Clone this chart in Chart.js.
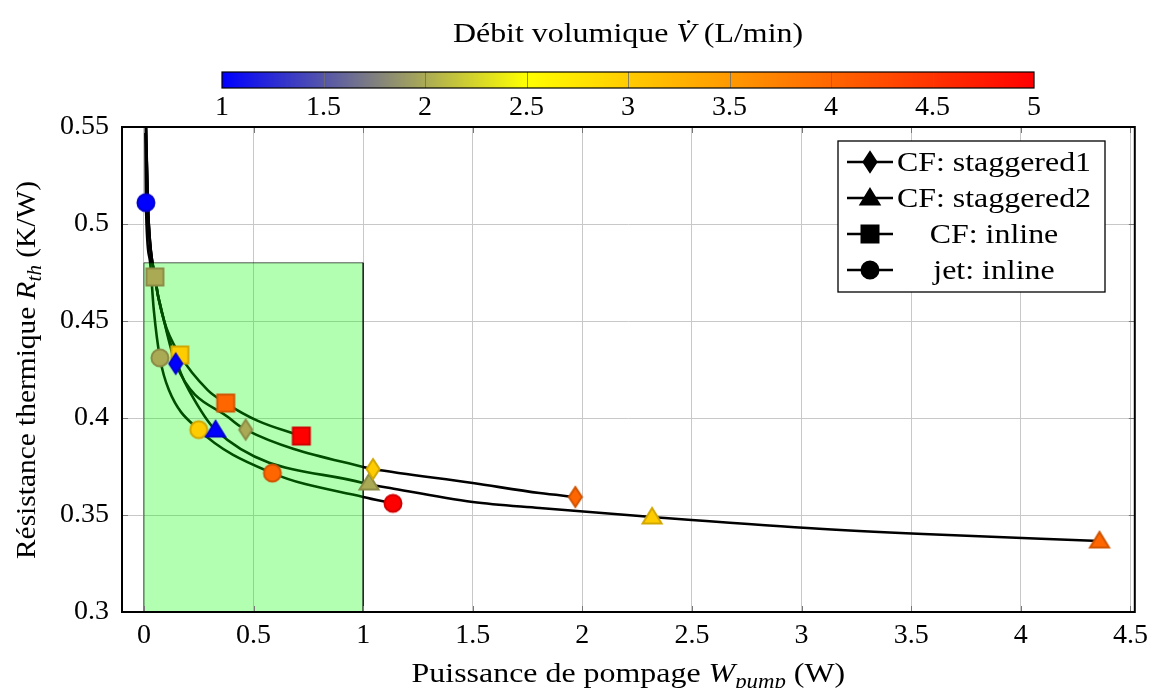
<!DOCTYPE html>
<html lang="fr">
<head>
<meta charset="UTF-8">
<title>Résistance thermique vs puissance de pompage</title>
<script src="https://cdn.jsdelivr.net/npm/chart.js"></script>
<style>
  html, body { margin: 0; padding: 0; background: #fff; }
</style>
</head>
<body>
<canvas id="chart" width="1155" height="688"></canvas>
<script>
// axes
const xTicks = [0, 0.5, 1, 1.5, 2, 2.5, 3, 3.5, 4, 4.5];
const yTicks = [0.3, 0.35, 0.4, 0.45, 0.5, 0.55];
const cbarTicks = [1, 1.5, 2, 2.5, 3, 3.5, 4, 4.5, 5];
const seriesLabels = ['CF: staggered1', 'CF: staggered2', 'CF: inline', 'jet: inline'];

// measured points: pumping power (W), thermal resistance (K/W), flow rate (L/min)
const st1W = [0.145, 0.464, 1.045, 1.968];
const st1R = [0.428, 0.394, 0.3737, 0.3593];
const st1Q = [1, 2, 3, 4];
const st2W = [0.327, 1.027, 2.318, 4.359];
const st2R = [0.3938, 0.3665, 0.349, 0.3366];
const st2Q = [1, 2, 3, 4];
const inlW = [0.05, 0.164, 0.373, 0.718];
const inlR = [0.4727, 0.4325, 0.4077, 0.3907];
const inlQ = [2, 3, 4, 5];
const jetW = [0.009, 0.073, 0.25, 0.586, 1.136];
const jetR = [0.511, 0.431, 0.394, 0.3716, 0.356];
const jetQ = [1, 2, 3, 4, 5];

// fitted curves
const st1CurveW = [0.007, 0.018, 0.05, 0.091, 0.145, 0.395, 0.464, 1.0, 1.045, 1.5, 1.805, 1.968];
const st1CurveR = [0.56, 0.51, 0.4727, 0.4505, 0.428, 0.3995, 0.394, 0.3747, 0.3737, 0.3665, 0.3613, 0.3593];
const st2CurveW = [0.007, 0.018, 0.05, 0.091, 0.168, 0.205, 0.327, 1.0, 1.123, 1.5, 1.805, 2.318, 3.027, 3.555, 4.359];
const st2CurveR = [0.56, 0.51, 0.4727, 0.4505, 0.4232, 0.4144, 0.3938, 0.3665, 0.3639, 0.3567, 0.3536, 0.349, 0.3433, 0.3402, 0.3366];
const inlCurveW = [0.008, 0.018, 0.05, 0.091, 0.164, 0.291, 0.373, 0.52, 0.718];
const inlCurveR = [0.56, 0.51, 0.4727, 0.4505, 0.4325, 0.4144, 0.4077, 0.3985, 0.3907];
const jetCurveW = [0.006, 0.009, 0.027, 0.045, 0.073, 0.114, 0.25, 0.586, 1.0, 1.136];
const jetCurveR = [0.56, 0.511, 0.4814, 0.4557, 0.431, 0.4144, 0.394, 0.3716, 0.3593, 0.356];

// shaded zone
const zoneW = [0, 0, 1, 1];
const zoneR = [0.3, 0.48, 0.48, 0.3];

const SERIF = '"Liberation Serif", "DejaVu Serif", serif';
const FS = 28;        // font size
const STRETCH = 1.14; // widen text a bit, closer to the LaTeX look

// colormap blue -> yellow -> red
const cmapStops = [[1, [0, 0, 255]], [2.5, [255, 255, 0]], [5, [255, 0, 0]]];
function cmap(v, k) {
  k = k || 1;
  let a = cmapStops[0], b = cmapStops[cmapStops.length - 1];
  for (let i = 0; i < cmapStops.length - 1; i++) {
    if (v >= cmapStops[i][0] && v <= cmapStops[i + 1][0]) { a = cmapStops[i]; b = cmapStops[i + 1]; break; }
  }
  const t = (v - a[0]) / (b[0] - a[0] || 1);
  const c = a[1].map((x, j) => Math.round((x + (b[1][j] - x) * t) * k));
  return 'rgb(' + c.join(',') + ')';
}

function markerCanvas(shape, fill, stroke) {
  const c = document.createElement('canvas');
  c.width = 26; c.height = 26;
  const g = c.getContext('2d');
  const cx = 13, cy = 13;
  g.fillStyle = fill; g.strokeStyle = stroke; g.lineWidth = 2;
  g.beginPath();
  if (shape === 'circle') g.arc(cx, cy, 8.5, 0, Math.PI * 2);
  else if (shape === 'square') g.rect(cx - 8.5, cy - 8.5, 17, 17);
  else if (shape === 'diamond') { g.moveTo(cx, cy - 10); g.lineTo(cx + 6.5, cy); g.lineTo(cx, cy + 10); g.lineTo(cx - 6.5, cy); g.closePath(); }
  else { g.moveTo(cx, cy - 9); g.lineTo(cx + 9.5, cy + 6.5); g.lineTo(cx - 9.5, cy + 6.5); g.closePath(); }
  g.fill(); g.stroke();
  return c;
}

const pts = (xs, ys) => xs.map((x, i) => ({ x: x, y: ys[i] }));

function markerSet(label, shape, xs, ys, qs) {
  return {
    label: label, data: pts(xs, ys), showLine: false, order: 0,
    pointStyle: qs.map(q => markerCanvas(shape, cmap(q), cmap(q, 0.82))),
    pointRadius: 10, pointHoverRadius: 10
  };
}
function curveSet(label, xs, ys) {
  return {
    label: label, data: pts(xs, ys), showLine: true, order: 2,
    borderColor: '#000', borderWidth: 2.6, pointRadius: 0, pointHoverRadius: 0,
    cubicInterpolationMode: 'monotone', fill: false
  };
}

const legendShapes = ['diamond', 'triangle', 'square', 'circle'];

// text made of plain / italic / subscript parts, centred on (x, y)
function richText(ctx, parts, x, y, size, rotate, stretch) {
  const fontOf = p => (p.i ? 'italic ' : '') + Math.round(p.sub ? size * 0.7 : size) + 'px ' + SERIF;
  let total = 0;
  parts.forEach(p => { ctx.font = fontOf(p); total += ctx.measureText(p.t).width; });
  ctx.save();
  ctx.translate(x, y);
  if (rotate) ctx.rotate(-Math.PI / 2);
  ctx.scale(stretch || STRETCH, 1);
  ctx.fillStyle = '#000';
  ctx.textBaseline = 'alphabetic';
  ctx.textAlign = 'left';
  let cx = -total / 2;
  parts.forEach(p => {
    ctx.font = fontOf(p);
    ctx.fillText(p.t, cx, p.sub ? size * 0.22 : 0);
    cx += ctx.measureText(p.t).width;
  });
  ctx.restore();
}

const decorPlugin = {
  id: 'decor',
  afterDatasetsDraw(chart) {
    const ctx = chart.ctx, a = chart.chartArea;
    const xs = chart.scales.x, ys = chart.scales.y;
    ctx.save();
    // inner tick marks
    ctx.strokeStyle = '#777'; ctx.lineWidth = 1;
    ctx.beginPath();
    xTicks.forEach(v => {
      const px = Math.round(xs.getPixelForValue(v)) + 0.5;
      ctx.moveTo(px, a.bottom); ctx.lineTo(px, a.bottom - 6);
      ctx.moveTo(px, a.top); ctx.lineTo(px, a.top + 6);
    });
    yTicks.forEach(v => {
      const py = Math.round(ys.getPixelForValue(v)) + 0.5;
      ctx.moveTo(a.left, py); ctx.lineTo(a.left + 6, py);
      ctx.moveTo(a.right, py); ctx.lineTo(a.right - 6, py);
    });
    ctx.stroke();
    // frame
    ctx.strokeStyle = '#000'; ctx.lineWidth = 2;
    ctx.strokeRect(a.left, a.top, a.right - a.left, a.bottom - a.top);
    ctx.restore();
  },
  afterDraw(chart) {
    const ctx = chart.ctx, a = chart.chartArea;
    ctx.save();
    // colorbar
    const cb = { l: 222, r: 1034, t: 72, b: 88 };
    const q0 = cbarTicks[0], q1 = cbarTicks[cbarTicks.length - 1];
    const qx = q => cb.l + (q - q0) / (q1 - q0) * (cb.r - cb.l);
    const grad = ctx.createLinearGradient(cb.l, 0, cb.r, 0);
    cmapStops.forEach(s => grad.addColorStop((s[0] - q0) / (q1 - q0), cmap(s[0])));
    ctx.fillStyle = grad;
    ctx.fillRect(cb.l, cb.t, cb.r - cb.l, cb.b - cb.t);
    ctx.strokeStyle = 'rgba(110,110,110,0.8)'; ctx.lineWidth = 1;
    ctx.beginPath();
    cbarTicks.slice(1, -1).forEach(q => {
      const px = Math.round(qx(q)) + 0.5;
      ctx.moveTo(px, cb.t); ctx.lineTo(px, cb.b);
    });
    ctx.stroke();
    ctx.strokeStyle = '#000'; ctx.lineWidth = 1.2;
    ctx.strokeRect(cb.l, cb.t, cb.r - cb.l, cb.b - cb.t);
    ctx.fillStyle = '#000';
    ctx.font = FS + 'px ' + SERIF;
    ctx.textAlign = 'center'; ctx.textBaseline = 'middle';
    cbarTicks.forEach(q => ctx.fillText(String(q), qx(q), 108));

    // titles
    richText(ctx, [{ t: 'Débit volumique ' }, { t: 'V\u0307', i: true }, { t: ' (L/min)' }], 628, 42, FS);
    richText(ctx, [{ t: 'Puissance de pompage ' }, { t: 'W', i: true }, { t: 'pump', i: true, sub: true }, { t: ' (W)' }], (a.left + a.right) / 2, 682, FS);
    richText(ctx, [{ t: 'Résistance thermique ' }, { t: 'R', i: true }, { t: 'th', i: true, sub: true }, { t: ' (K/W)' }], 35, 370, FS, true, 1.05);

    // legend
    const lg = { l: 838, t: 141, r: 1105, b: 292 };
    ctx.fillStyle = '#fff';
    ctx.fillRect(lg.l, lg.t, lg.r - lg.l, lg.b - lg.t);
    ctx.strokeStyle = '#000'; ctx.lineWidth = 1.3;
    ctx.strokeRect(lg.l, lg.t, lg.r - lg.l, lg.b - lg.t);
    seriesLabels.forEach((lab, i) => {
      const y = lg.t + 21 + i * 36;
      ctx.strokeStyle = '#000'; ctx.lineWidth = 2.6;
      ctx.beginPath(); ctx.moveTo(lg.l + 9, y); ctx.lineTo(lg.l + 55, y); ctx.stroke();
      const m = markerCanvas(legendShapes[i], '#000', '#000');
      ctx.drawImage(m, lg.l + 32 - m.width / 2, y - m.height / 2);
      richText(ctx, [{ t: lab }], 994, y + 9, FS);
    });
    ctx.restore();
  }
};

new Chart(document.getElementById('chart'), {
  type: 'scatter',
  data: {
    datasets: [
      markerSet(seriesLabels[0], 'diamond', st1W, st1R, st1Q),
      markerSet(seriesLabels[1], 'triangle', st2W, st2R, st2Q),
      markerSet(seriesLabels[2], 'square', inlW, inlR, inlQ),
      markerSet(seriesLabels[3], 'circle', jetW, jetR, jetQ),
      {
        label: 'zone', data: pts(zoneW, zoneR), showLine: true, order: 1,
        borderColor: 'rgba(0,0,0,0.65)', borderWidth: 1, pointRadius: 0, pointHoverRadius: 0,
        fill: 'origin', backgroundColor: 'rgba(0,255,0,0.3)', tension: 0
      },
      curveSet('fit ' + seriesLabels[0], st1CurveW, st1CurveR),
      curveSet('fit ' + seriesLabels[1], st2CurveW, st2CurveR),
      curveSet('fit ' + seriesLabels[2], inlCurveW, inlCurveR),
      curveSet('fit ' + seriesLabels[3], jetCurveW, jetCurveR)
    ]
  },
  options: {
    responsive: false,
    animation: false,
    layout: { padding: { left: 0, top: 127, right: 20, bottom: 0 } },
    plugins: { legend: { display: false }, tooltip: { enabled: false } },
    scales: {
      x: {
        type: 'linear', min: -0.1, max: 4.52,
        afterBuildTicks: s => { s.ticks = xTicks.map(v => ({ value: v })); },
        afterFit: s => { s.height = 76; },
        grid: { color: '#c8c8c8', lineWidth: 1, drawTicks: false },
        border: { display: false },
        ticks: { color: '#000', padding: 7, font: { family: SERIF, size: FS }, callback: v => String(+v.toFixed(2)) }
      },
      y: {
        type: 'linear', min: 0.3, max: 0.55,
        afterBuildTicks: s => { s.ticks = yTicks.map(v => ({ value: v })); },
        afterFit: s => { s.width = 122; },
        grid: { color: '#c8c8c8', lineWidth: 1, drawTicks: false },
        border: { display: false },
        ticks: { color: '#000', padding: 13, font: { family: SERIF, size: FS }, callback: v => String(+v.toFixed(2)) }
      }
    }
  },
  plugins: [decorPlugin]
});
</script>
</body>
</html>
